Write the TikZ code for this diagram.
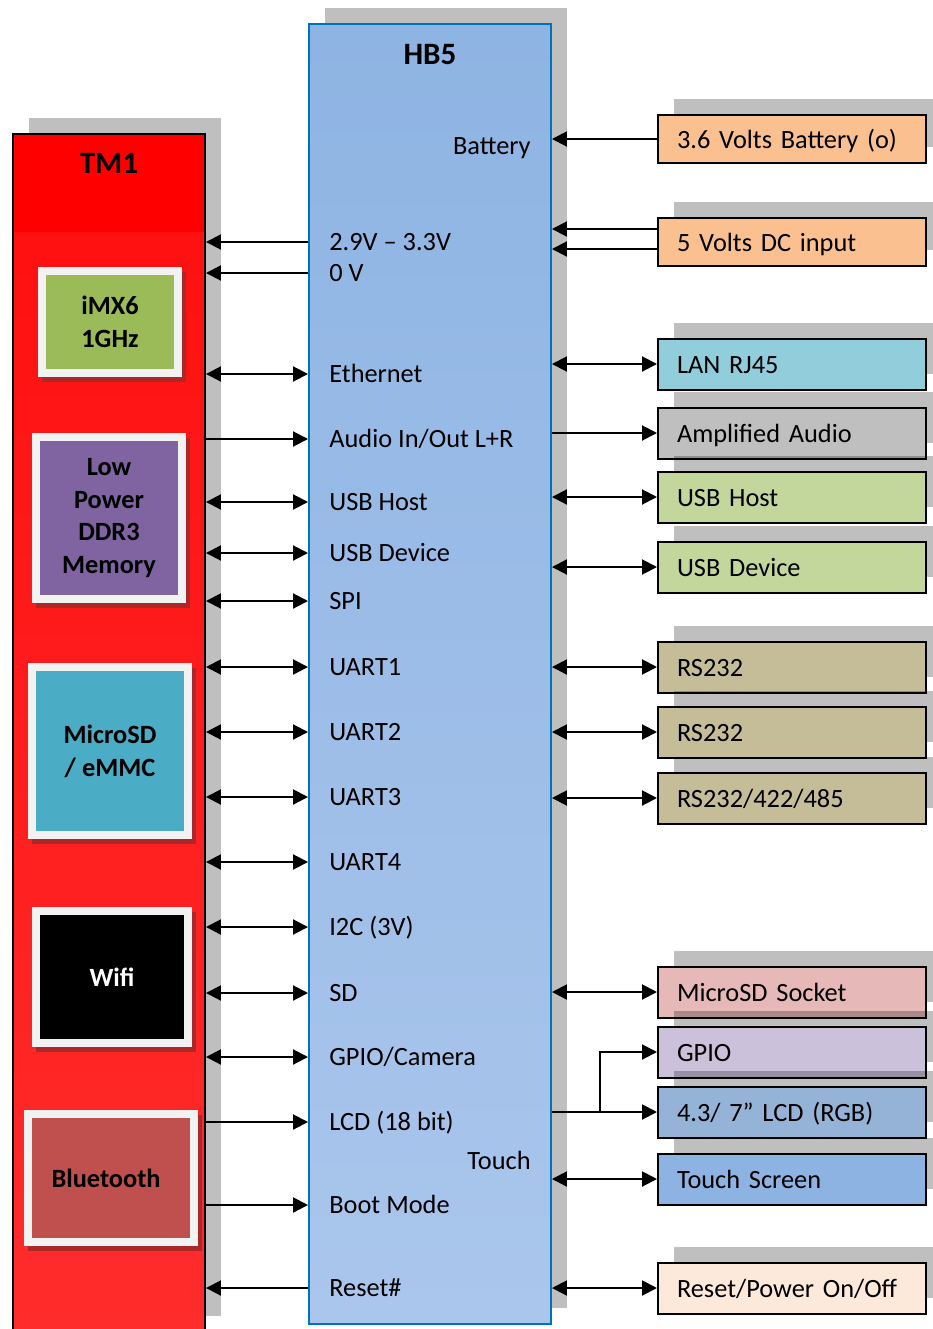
\documentclass[tikz,border=0pt]{standalone}
\usepackage{fontspec}
\setmainfont{Carlito}
\usepackage{tikz}
\usetikzlibrary{arrows.meta, positioning, shadows}
\usepackage{xcolor}

\definecolor{boardRed}{RGB}{255,0,0}
\definecolor{boardRedMid}{RGB}{255,14,14}
\definecolor{boardRedLow}{RGB}{255,44,44}
\definecolor{carrierTop}{RGB}{142,180,227}
\definecolor{carrierLow}{RGB}{170,198,236}
\definecolor{carrierEdge}{RGB}{0,112,192}
\definecolor{frameGray}{RGB}{242,242,242}
\definecolor{chipShade}{RGB}{172,40,40}
\definecolor{cpuGreen}{RGB}{155,187,89}
\definecolor{memPurple}{RGB}{128,100,162}
\definecolor{sdTeal}{RGB}{75,172,198}
\definecolor{btRed}{RGB}{192,80,77}
\definecolor{battOrange}{RGB}{250,192,144}
\definecolor{lanCyan}{RGB}{146,205,220}
\definecolor{audioGray}{RGB}{191,191,191}
\definecolor{usbGreen}{RGB}{195,214,155}
\definecolor{serialTan}{RGB}{196,189,151}
\definecolor{sockPink}{RGB}{230,185,184}
\definecolor{gpioLilac}{RGB}{204,193,218}
\definecolor{lcdBlue}{RGB}{149,179,215}
\definecolor{touchBlue}{RGB}{141,179,226}
\definecolor{resetCream}{RGB}{253,233,217}

\begin{document}
\begin{tikzpicture}[
    x=0.02cm, y=-0.02cm,
    font=\fontsize{15}{18.7}\selectfont,
    bigShadow/.style={
        general shadow={fill=black, fill opacity=0.25,
            shadow xshift=0.32cm, shadow yshift=0.32cm}
    },
    boardBox/.style={
        rectangle,
        draw=black,
        line width=0.04cm,
        minimum width=3.84cm,
        minimum height=23.96cm,
        inner sep=0pt,
        top color=boardRedMid,
        bottom color=boardRedLow,
        bigShadow,
        path picture={
            \fill[boardRed] (path picture bounding box.north west)
                rectangle ([yshift=-1.96cm]path picture bounding box.north east);
        }
    },
    carrierBox/.style={
        rectangle,
        draw=carrierEdge,
        line width=0.04cm,
        minimum width=4.84cm,
        minimum height=26cm,
        inner sep=0pt,
        top color=carrierTop,
        bottom color=carrierLow,
        bigShadow
    },
    boxTitle/.style={
        font=\fontsize{17.7}{21}\selectfont\bfseries
    },
    chipBox/.style={
        rectangle,
        draw=frameGray,
        line width=0.16cm,
        inner sep=0pt,
        align=center,
        font=\fontsize{15}{18.7}\selectfont\bfseries,
        general shadow={fill=chipShade, draw=chipShade, line width=0.16cm,
            shadow xshift=0.08cm, shadow yshift=-0.1cm}
    },
    pinLabel/.style={
        inner sep=0pt,
        text height=0.92em,
        text depth=0pt
    },
    extBox/.style={
        rectangle,
        draw=black,
        line width=0.04cm,
        minimum width=5.36cm,
        minimum height=1.02cm,
        text width=4.6cm,
        inner xsep=0.38cm,
        align=left,
        anchor=west,
        text height=1.08em,
        text depth=0pt,
        bigShadow
    },
    biArrow/.style={
        {Triangle[length=0.3cm, width=0.3cm]}-{Triangle[length=0.3cm, width=0.3cm]},
        line width=0.04cm
    },
    toArrow/.style={
        -{Triangle[length=0.3cm, width=0.3cm]},
        line width=0.04cm
    }
]

\useasboundingbox (0,0) rectangle (933,1329);
\clip (0,0) rectangle (933,1329);

% Module TM1
\node[boardBox] (tm) at (109,733) {};
\node[boxTitle] (tmTitle) at (109,163) {TM1};

\node[chipBox, fill=cpuGreen, minimum width=2.72cm, minimum height=2.04cm] (cpu) at (110,322) {iMX6\\1GHz};
\node[chipBox, fill=memPurple, minimum width=2.92cm, minimum height=3.24cm] (mem) at (109,518) {Low\\Power\\DDR3\\Memory};
\node[chipBox, fill=sdTeal, minimum width=3.12cm, minimum height=3.36cm] (emmc) at (110,751) {MicroSD\\/ eMMC};
\node[chipBox, fill=black, text=white, minimum width=3.04cm, minimum height=2.64cm] (wifi) at (112,977) {Wifi};
\node[chipBox, fill=btRed, minimum width=3.32cm, minimum height=2.56cm] (bt) at (111,1178) {Bluetooth\hspace{0.2cm}};

% Carte HB5
\node[carrierBox] (hb) at (430,674) {};
\node[boxTitle] (hbTitle) at (430,55) {HB5};

\node[pinLabel, anchor=east] (lblBat) at (531,146) {Battery};
\node[pinLabel, anchor=west] (lblPwr) at (329,242) {2.9V -- 3.3V};
\node[pinLabel, anchor=west] (lblGnd) at (329,273) {0 V};
\node[pinLabel, anchor=west] (lblEth) at (329,374) {Ethernet};
\node[pinLabel, anchor=west] (lblAudio) at (329,439) {Audio In/Out L+R};
\node[pinLabel, anchor=west] (lblUsbH) at (329,502) {USB Host};
\node[pinLabel, anchor=west] (lblUsbD) at (329,553) {USB Device};
\node[pinLabel, anchor=west] (lblSpi) at (329,601) {SPI};
\node[pinLabel, anchor=west] (lblUartA) at (329,667) {UART1};
\node[pinLabel, anchor=west] (lblUartB) at (329,732) {UART2};
\node[pinLabel, anchor=west] (lblUartC) at (329,797) {UART3};
\node[pinLabel, anchor=west] (lblUartD) at (329,862) {UART4};
\node[pinLabel, anchor=west] (lblIic) at (329,927) {I2C (3V)};
\node[pinLabel, anchor=west] (lblSd) at (329,993) {SD};
\node[pinLabel, anchor=west] (lblGpio) at (329,1057) {GPIO/Camera};
\node[pinLabel, anchor=west] (lblLcd) at (329,1122) {LCD (18 bit)};
\node[pinLabel, anchor=east] (lblTouch) at (531,1161) {Touch};
\node[pinLabel, anchor=west] (lblBoot) at (329,1205) {Boot Mode};
\node[pinLabel, anchor=west] (lblReset) at (329,1288) {Reset\#};

% Peripheriques
\node[extBox, fill=battOrange, minimum height=0.96cm] (bat) at (657,139) {3.6 Volts Battery (o)};
\node[extBox, fill=battOrange, minimum height=0.96cm] (dcin) at (657,242) {5 Volts DC input};
\node[extBox, fill=lanCyan] (lan) at (657,364) {LAN RJ45};
\node[extBox, fill=audioGray] (amp) at (657,433) {Amplified Audio};
\node[extBox, fill=usbGreen] (usbh) at (657,497) {USB Host};
\node[extBox, fill=usbGreen] (usbd) at (657,567) {USB Device};
\node[extBox, fill=serialTan] (rsA) at (657,667) {RS232};
\node[extBox, fill=serialTan] (rsB) at (657,732) {RS232};
\node[extBox, fill=serialTan] (rsC) at (657,798) {RS232/422/485};
\node[extBox, fill=sockPink] (sdSock) at (657,992) {MicroSD Socket};
\node[extBox, fill=gpioLilac] (gpio) at (657,1052) {GPIO};
\node[extBox, fill=lcdBlue] (lcd) at (657,1112) {4.3/ 7'' LCD (RGB)};
\node[extBox, fill=touchBlue] (touch) at (657,1179) {Touch Screen};
\node[extBox, fill=resetCream] (reset) at (657,1288) {Reset/Power On/Off};

% Liaisons TM1 - HB5
\draw[toArrow] (hb.west |- lblPwr) -- (tm.east |- lblPwr);
\draw[toArrow] (hb.west |- lblGnd) -- (tm.east |- lblGnd);
\draw[biArrow] (tm.east |- lblEth) -- (hb.west |- lblEth);
\draw[toArrow] (tm.east |- lblAudio) -- (hb.west |- lblAudio);
\draw[biArrow] (tm.east |- lblUsbH) -- (hb.west |- lblUsbH);
\draw[biArrow] (tm.east |- lblUsbD) -- (hb.west |- lblUsbD);
\draw[biArrow] (tm.east |- lblSpi) -- (hb.west |- lblSpi);
\draw[biArrow] (tm.east |- lblUartA) -- (hb.west |- lblUartA);
\draw[biArrow] (tm.east |- lblUartB) -- (hb.west |- lblUartB);
\draw[biArrow] (tm.east |- lblUartC) -- (hb.west |- lblUartC);
\draw[biArrow] (tm.east |- lblUartD) -- (hb.west |- lblUartD);
\draw[biArrow] (tm.east |- lblIic) -- (hb.west |- lblIic);
\draw[biArrow] (tm.east |- lblSd) -- (hb.west |- lblSd);
\draw[biArrow] (tm.east |- lblGpio) -- (hb.west |- lblGpio);
\draw[toArrow] (tm.east |- lblLcd) -- (hb.west |- lblLcd);
\draw[toArrow] (tm.east |- lblBoot) -- (hb.west |- lblBoot);
\draw[toArrow] (hb.west |- lblReset) -- (tm.east |- lblReset);

% Liaisons HB5 - peripheriques
\coordinate (dcinUp) at ([yshift=0.26cm]dcin.west);
\coordinate (dcinLow) at ([yshift=-0.14cm]dcin.west);
\draw[toArrow] (bat.west) -- (hb.east |- bat.west);
\draw[toArrow] (dcinUp) -- (hb.east |- dcinUp);
\draw[toArrow] (dcinLow) -- (hb.east |- dcinLow);
\draw[biArrow] (hb.east |- lan.west) -- (lan.west);
\draw[toArrow] (hb.east |- amp.west) -- (amp.west);
\draw[biArrow] (hb.east |- usbh.west) -- (usbh.west);
\draw[biArrow] (hb.east |- usbd.west) -- (usbd.west);
\draw[biArrow] (hb.east |- rsA.west) -- (rsA.west);
\draw[biArrow] (hb.east |- rsB.west) -- (rsB.west);
\draw[biArrow] (hb.east |- rsC.west) -- (rsC.west);
\draw[biArrow] (hb.east |- sdSock.west) -- (sdSock.west);
\coordinate (lcdFork) at (600,0 |- lcd.west);
\draw[toArrow] (hb.east |- lcd.west) -- (lcd.west);
\draw[toArrow] (lcdFork) |- (gpio.west);
\draw[biArrow] (hb.east |- touch.west) -- (touch.west);
\draw[biArrow] (hb.east |- reset.west) -- (reset.west);

\end{tikzpicture}
\end{document}
